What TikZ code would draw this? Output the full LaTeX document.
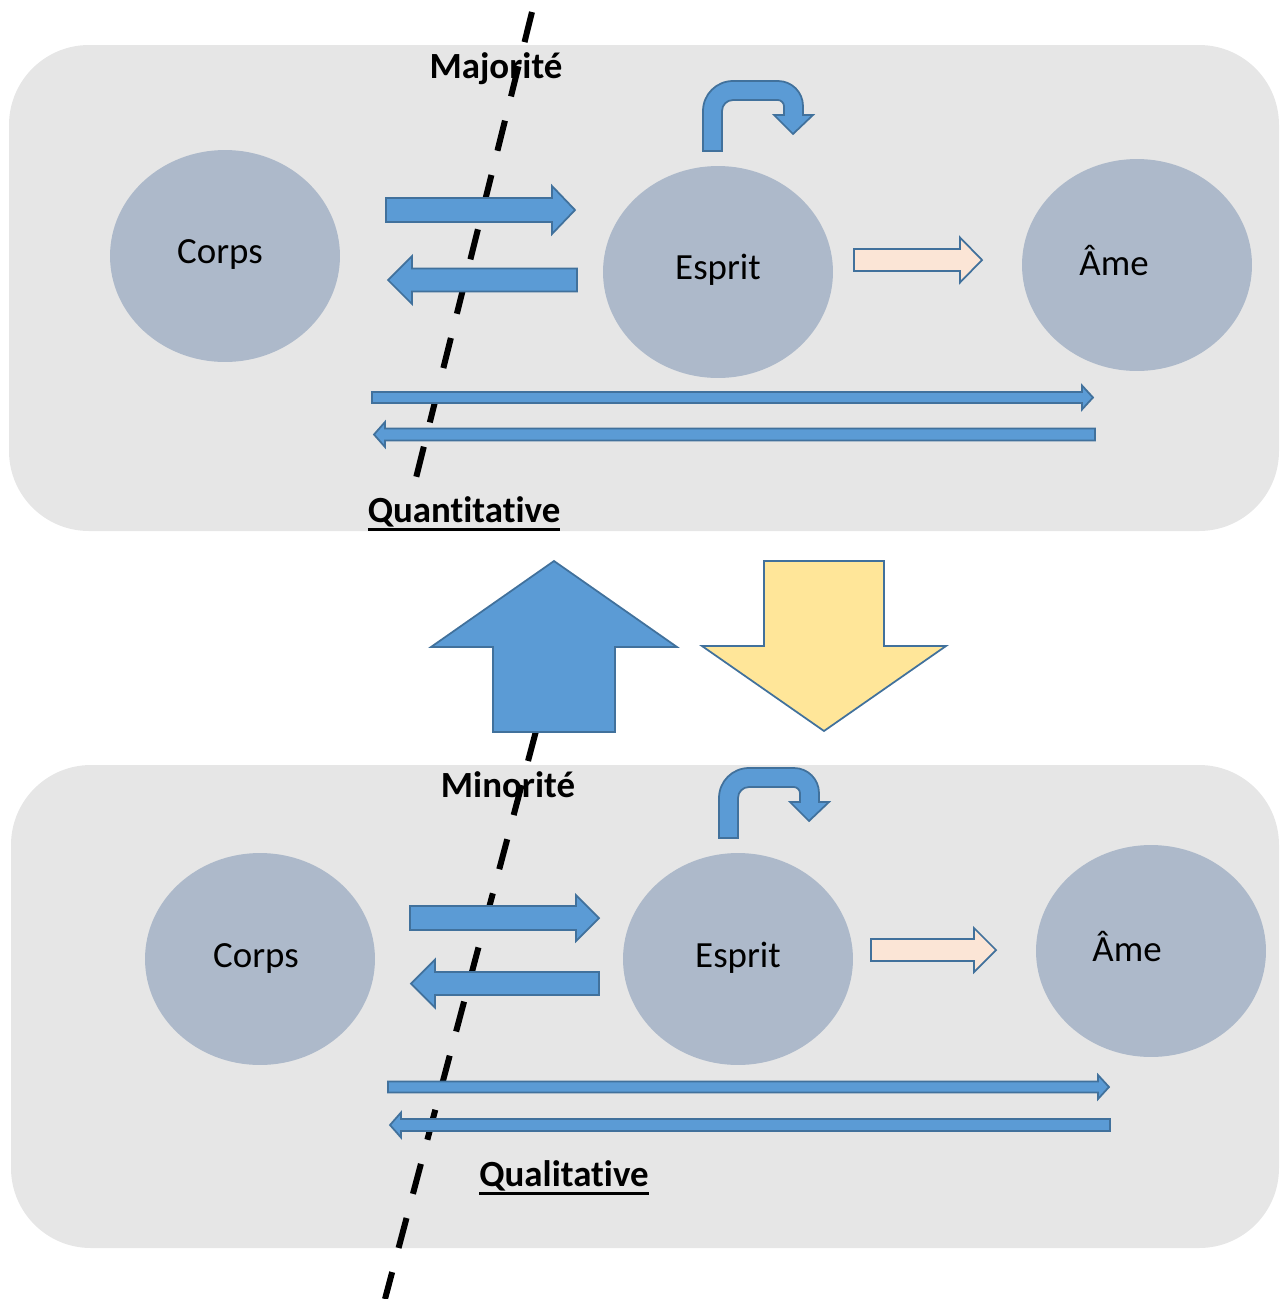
\documentclass[tikz,border=0pt]{standalone}
\usepackage{fontspec}
\setmainfont{Carlito}[Ligatures=NoCommon]
\usepackage{xcolor}
\usepackage{tikz}
\usetikzlibrary{shapes.geometric}

\definecolor{panelgray}{HTML}{E6E6E6}
\definecolor{orbfill}{HTML}{ADB9CA}
\definecolor{arrblue}{HTML}{5B9BD5}
\definecolor{arredge}{HTML}{41719C}
\definecolor{arrpeach}{HTML}{FBE5D6}
\definecolor{arryellow}{HTML}{FFE699}

%% horizontal block arrow: [style]{tail x}{tip x}{head base x}{y}{half shaft}{half head}
\newcommand{\hblock}[7][barr]{%
  \draw[#1] (#2,#5-#6) -- (#4,#5-#6) -- (#4,#5-#7) -- (#3,#5)
    -- (#4,#5+#7) -- (#4,#5+#6) -- (#2,#5+#6) -- cycle;}
%% thick underline for the panel titles
\newcommand{\thickul}[1]{\vtop{\hbox{#1}\kern0.3pt\hrule height 1.9pt}}

\begin{document}
\begin{tikzpicture}[
  x=0.02cm, y=-0.02cm,
  panel/.style={fill=panelgray, rounded corners=1.6cm},
  orb/.style={ellipse, fill=orbfill, minimum width=4.6cm, minimum height=4.24cm, inner sep=0pt},
  lbl/.style={font=\fontsize{21}{25}\selectfont},
  hdr/.style={font=\fontsize{21}{25}\selectfont\bfseries},
  ttl/.style={font=\fontsize{21}{25}\selectfont\bfseries, inner sep=0pt},
  barr/.style={fill=arrblue, draw=arredge, line width=1pt},
  parr/.style={fill=arrpeach, draw=arredge, line width=1pt},
  yarr/.style={fill=arryellow, draw=arredge, line width=1pt},
  cut/.style={line width=0.12cm, dash pattern=on 0.62cm off 0.5cm}
]
\useasboundingbox (0,0) rectangle (1283,1299);

%% Panels
\fill[panel] (9,45) rectangle (1279,531);
\fill[panel] (11,765) rectangle (1279,1248);

%% Majorite (top)
\node[orb] (corps1) at (225,256) {};
\node[orb] (esprit1) at (718,272) {};
\node[orb] (ame1) at (1137,265) {};
\node[lbl] at (220,254) {Corps};
\node[lbl] at (718,270) {Esprit};
\node[lbl] at (1114,261) {Âme};
\node[hdr] (maj) at (496,69) {Majorité};
\node[ttl] (quant) at (464,514) {\thickul{Quantitative}};

%% Minorite (bottom)
\node[orb] (corps2) at (260,959) {};
\node[orb] (esprit2) at (738,959) {};
\node[orb] (ame2) at (1151,951) {};
\node[lbl] at (256,958) {Corps};
\node[lbl] at (738,958) {Esprit};
\node[lbl] at (1127,947) {Âme};
\node[hdr] (min) at (508,785) {Minorité};
\node[ttl] (qual) at (564,1178) {\thickul{Qualitative}};

%% Dashed separators
\coordinate (cut1a) at (532,12);
\coordinate (cut1b) at (416,478);
\coordinate (cut2a) at (536,731);
\coordinate (cut2b) at (385,1299);
\draw[cut] (cut1a) -- (cut1b);
\draw[cut] (cut2a) -- (cut2b);

%% Block arrows, top
\hblock{386}{575}{552}{210}{12}{24}
\hblock{577}{388}{412}{280}{11.5}{24}
\hblock[parr]{854}{982}{960}{260}{11}{22.5}
\hblock{372}{1093}{1082}{397.5}{5.5}{12}
\hblock{1095}{374}{385}{434.5}{6}{12.5}

%% Block arrows, bottom
\hblock{410}{599}{576}{918}{12}{23}
\hblock{599}{411}{435}{983.5}{11.5}{24}
\hblock[parr]{871}{996}{974}{950}{11}{22}
\hblock{388}{1109}{1098}{1087}{5.5}{12}
\hblock{1110}{390}{401}{1125}{6}{12.5}

%% Bent arrows above Esprit
\foreach \dx/\dy in {0/0, 16/687} {
  \begin{scope}[shift={(\dx,\dy)}]
    \draw[barr] (703,151) -- (703,111) .. controls (703,94.4) and (716.4,81) .. (733,81)
      -- (778,81) .. controls (791.8,81) and (803,92.2) .. (803,106) -- (803,115)
      -- (813,115) -- (793,134) -- (774,115) -- (784,115) -- (784,106)
      .. controls (784,102.7) and (780.7,100) .. (778,100) -- (733,100)
      .. controls (726.9,100) and (722,104.9) .. (722,111) -- (722,151) -- cycle;
  \end{scope}
}

%% Large arrows between panels
\draw[barr] (554,561) -- (677,647) -- (615,647) -- (615,732) -- (493,732)
  -- (493,647) -- (431,647) -- cycle;
\draw[yarr] (764,561) -- (884,561) -- (884,646) -- (946,646) -- (824,731)
  -- (702,646) -- (764,646) -- cycle;
\end{tikzpicture}
\end{document}
